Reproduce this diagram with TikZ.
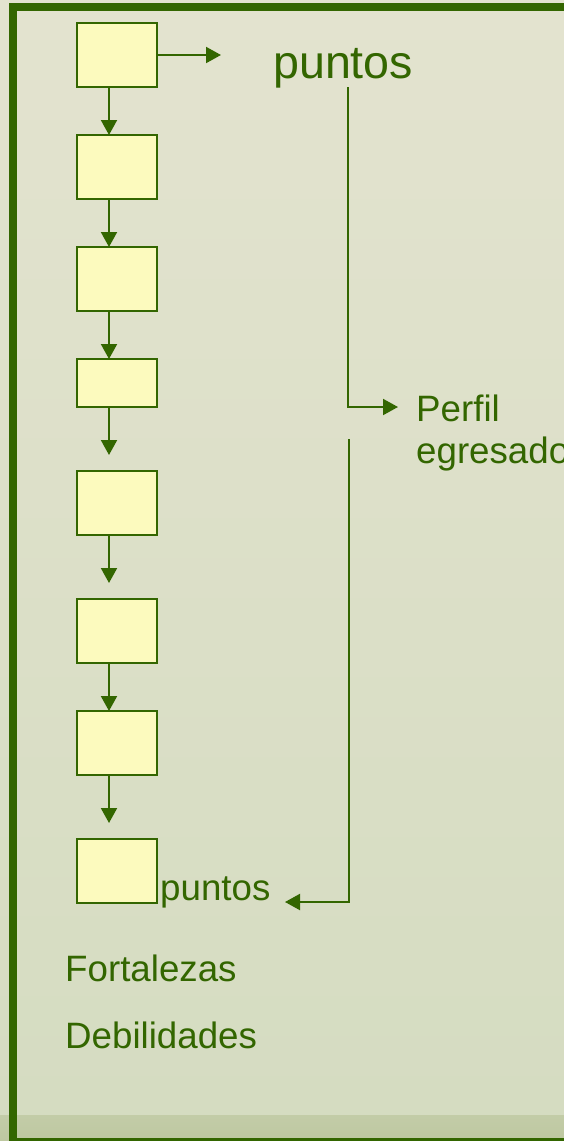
\documentclass[tikz,border=0pt]{standalone}
\usepackage{fontspec}
\setmainfont{Liberation Sans}
\usetikzlibrary{arrows.meta}
\definecolor{dgreen}{HTML}{336600}
\definecolor{boxfill}{HTML}{FCFABE}
\definecolor{bgtop}{HTML}{E3E3CF}
\definecolor{bgbot}{HTML}{D5DCC1}
\definecolor{band}{HTML}{BEC8A1}
\begin{document}
\begin{tikzpicture}[x=1pt,y=-1pt,
  stepbox/.style={draw=dgreen,fill=boxfill,line width=2pt,minimum width=80pt,inner sep=0pt,outer sep=0pt},
  arr/.style={draw=dgreen,line width=2pt,-{Triangle[length=15pt,width=16pt]}},
  plain/.style={draw=dgreen,line width=2pt},
  lbl/.style={text=dgreen,inner sep=0pt,font=\fontsize{36.7}{42}\selectfont,anchor=base west},
  biglbl/.style={text=dgreen,inner sep=0pt,font=\fontsize{46.6}{52}\selectfont,anchor=base west}]
\useasboundingbox (0,0) rectangle (564,1141);
\shade[top color=bgtop,bottom color=bgbot] (0,0) rectangle (564,1115);
\shade[top color=band!80!bgbot,bottom color=band] (0,1115) rectangle (564,1141);
% frame
\draw[dgreen,line width=8pt] (13,7) rectangle (640,1142);
% boxes
\node[stepbox,minimum height=64pt] (b1) at (117,55) {};
\node[stepbox,minimum height=64pt] (b2) at (117,167) {};
\node[stepbox,minimum height=64pt] (b3) at (117,279) {};
\node[stepbox,minimum height=48pt] (b4) at (117,383) {};
\node[stepbox,minimum height=64pt] (b5) at (117,503) {};
\node[stepbox,minimum height=64pt] (b6) at (117,631) {};
\node[stepbox,minimum height=64pt] (b7) at (117,743) {};
\node[stepbox,minimum height=64pt] (b8) at (117,871) {};
% vertical arrows
\draw[arr] ([xshift=-8pt]b1.south) -- ([xshift=-8pt]b2.north);
\draw[arr] ([xshift=-8pt]b2.south) -- ([xshift=-8pt]b3.north);
\draw[arr] ([xshift=-8pt]b3.south) -- ([xshift=-8pt]b4.north);
\draw[arr,shorten >=16pt] ([xshift=-8pt]b4.south) -- ([xshift=-8pt]b5.north);
\draw[arr,shorten >=16pt] ([xshift=-8pt]b5.south) -- ([xshift=-8pt]b6.north);
\draw[arr] ([xshift=-8pt]b6.south) -- ([xshift=-8pt]b7.north);
\draw[arr,shorten >=16pt] ([xshift=-8pt]b7.south) -- ([xshift=-8pt]b8.north);
% labels
\node[biglbl] (ptop) at (273,78) {puntos};
\node[lbl] (pbot) at (160,900) {puntos};
\node[lbl] (perfil) at (416,421) {Perfil};
\node[lbl] (egres) at (416,463) {egresado};
\node[lbl] (fort) at (65,981) {Fortalezas};
\node[lbl] (debi) at (65,1048) {Debilidades};
% connectors
\coordinate (r1) at (221,55);
\draw[arr] (b1.east) -- (r1);
\coordinate (t1) at (348,87);
\coordinate (t2) at (348,407);
\coordinate (t3) at (398,407);
\draw[arr] (t1) -- (t2) -- (t3);
\coordinate (u1) at (349,439);
\coordinate (u2) at (349,902);
\coordinate (u3) at (285,902);
\draw[arr] (u1) -- (u2) -- (u3);
\end{tikzpicture}
\end{document}
